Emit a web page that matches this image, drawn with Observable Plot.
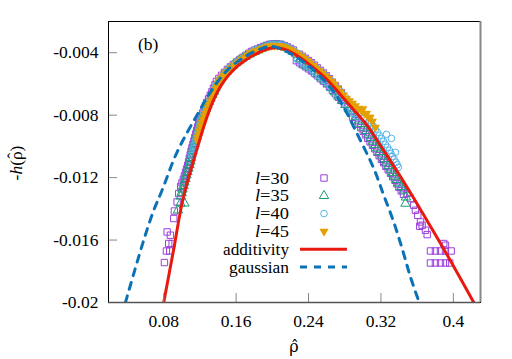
<!DOCTYPE html>
<html><head><meta charset="utf-8">
<script src="https://cdn.jsdelivr.net/npm/d3@7"></script>
<script src="https://cdn.jsdelivr.net/npm/@observablehq/plot@0.6"></script>
<style>
html,body{margin:0;padding:0;background:#fff;}
#wrap{position:relative;width:512px;height:359px;overflow:hidden;background:#fff;}
#wrap svg{position:absolute;left:0;top:0;}
</style></head><body><div id="wrap"></div>
<script>
// ---- data ----
const xTicks = [0.08, 0.16, 0.24, 0.32, 0.4];
const xTickLabels = ["0.08", "0.16", "0.24", "0.32", "0.4"];
const yTicks = [-0.02, -0.016, -0.012, -0.008, -0.004];
const yTickLabels = ["-0.02", "-0.016", "-0.012", "-0.008", "-0.004"];
const xDomain = [0.019, 0.43];
const yDomain = [-0.02, -0.002];
const sizesL = ["30", "35", "40", "45"];

// l=30 (open squares)
const rho30 = [0.0808,0.0830,0.0866,0.0855,0.0893,0.0838,0.0874,0.0911,0.0918,0.0948,0.0966,
0.0988,0.1017,0.1041,0.1065,0.1084,0.1102,0.1123,0.1144,0.1165,0.1186,0.1213,0.1246,0.1277,0.1314,0.1349,0.1382,0.1438,0.1504,0.1570,0.1642,0.1708,
0.1769,0.1835,0.1902,0.1968,0.2034,0.2101,0.2167,0.2233,
0.2300,0.2366,0.2432,0.2498,0.2565,0.2631,0.2697,0.2763,
0.2266,0.2333,0.2399,0.2465,0.2532,0.2598,0.2664,0.2730,0.2797,0.2863,
0.2887,0.2951,0.3005,0.3055,0.3106,0.3155,0.3206,0.3255,0.3305,0.3355,0.3399,0.3449,
0.3490,0.3526,0.3563,0.3581,0.3607,0.3637,0.3655,0.3629,0.3692,0.3711,0.3894,0.3913,
0.3747,0.3802,0.3858,0.3913,0.3976,0.3747,0.3802,0.3858,0.3913,0.3960,
0.1002,0.1029,0.1053,0.1075,0.1093,0.1112,0.1134,0.1155,0.1176,0.1200,0.1230,0.1262,0.1296,0.1332,0.1366,0.1410,0.1471,0.1537,0.1606,0.1675,0.1739,0.1802,0.1869,0.1935,0.2001,0.2068,0.2134,0.2200,
0.2333,0.2399,0.2465,0.2532,0.2598,0.2664,0.2730,
0.2300,0.2366,0.2432,0.2499,0.2565,0.2631,0.2697,0.2764,0.2830,
0.2919,0.2978,0.3030,0.3080,0.3130,0.3180,0.3230,0.3280,0.3330,0.3377,0.3424];
const h30 = [-0.01744,-0.01670,-0.01670,-0.01622,-0.01622,-0.01548,-0.01569,-0.01462,-0.01414,-0.01356,-0.01302,
-0.01256,-0.01211,-0.01166,-0.01121,-0.01076,-0.01032,-0.00987,-0.00942,-0.00897,-0.00852,-0.00808,-0.00763,-0.00718,-0.00673,-0.00628,-0.00584,-0.00545,-0.00507,-0.00475,-0.00443,-0.00417,
-0.00392,-0.00376,-0.00360,-0.00347,-0.00344,-0.00347,-0.00363,-0.00383,
-0.00410,-0.00436,-0.00464,-0.00497,-0.00530,-0.00567,-0.00611,-0.00655,
-0.00451,-0.00477,-0.00503,-0.00530,-0.00566,-0.00598,-0.00641,-0.00685,-0.00728,-0.00771,
-0.00814,-0.00859,-0.00904,-0.00949,-0.00993,-0.01038,-0.01083,-0.01128,-0.01172,-0.01217,-0.01262,-0.01307,
-0.01302,-0.01334,-0.01377,-0.01409,-0.01441,-0.01484,-0.01505,-0.01512,-0.01537,-0.01565,-0.01622,-0.01633,
-0.01670,-0.01670,-0.01670,-0.01670,-0.01670,-0.01747,-0.01747,-0.01747,-0.01747,-0.01747,
-0.01234,-0.01189,-0.01144,-0.01099,-0.01054,-0.01010,-0.00965,-0.00920,-0.00875,-0.00830,-0.00786,-0.00741,-0.00696,-0.00651,-0.00606,-0.00565,-0.00526,-0.00491,-0.00459,-0.00430,-0.00404,-0.00384,-0.00368,-0.00353,-0.00345,-0.00345,-0.00355,-0.00373,
-0.00423,-0.00450,-0.00480,-0.00513,-0.00548,-0.00589,-0.00633,
-0.00464,-0.00490,-0.00516,-0.00548,-0.00582,-0.00619,-0.00663,-0.00706,-0.00750,
-0.00836,-0.00881,-0.00926,-0.00971,-0.01015,-0.01060,-0.01105,-0.01150,-0.01195,-0.01240,-0.01285];

// l=35 (open triangles)
const rho35 = [0.0957,0.0985,0.1029,0.0990,0.1007,0.1029,0.1051,0.1073,0.1095,0.1106,0.1128,0.1150,0.1172,0.1194,0.1217,0.1250,0.1283,0.1316,0.1355,0.1388,0.1438,0.1493,0.1565,0.1636,0.1703,
0.1802,0.1880,0.1957,0.2034,0.2112,0.2189,0.2266,
0.2344,0.2421,0.2498,0.2576,0.2653,0.2730,0.2808,0.2885,
0.2957,0.3007,0.3060,0.3109,0.3158,0.3206,0.3255,0.3305,0.3351,0.3397,0.3453,0.3476,0.3471,
0.0998,0.1018,0.1040,0.1062,0.1084,0.1100,0.1117,0.1139,0.1161,0.1183,0.1205,0.1233,0.1266,0.1300,0.1335,0.1371,0.1413,0.1465,0.1529,0.1600,0.1670,0.1752,0.1841,0.1918,0.1995,0.2073,0.2150,0.2228,
0.2305,0.2382,0.2460,0.2537,0.2615,0.2691,0.2769,0.2846,0.2921,0.2982,0.3033,0.3085,0.3133,0.3182,0.3230,0.3280,0.3328,0.3374,0.3425];
const h35 = [-0.01409,-0.01365,-0.01365,-0.01320,-0.01275,-0.01230,-0.01185,-0.01141,-0.01096,-0.01051,-0.01006,-0.00961,-0.00916,-0.00872,-0.00827,-0.00782,-0.00737,-0.00692,-0.00648,-0.00603,-0.00558,-0.00520,-0.00481,-0.00449,-0.00424,
-0.00394,-0.00375,-0.00358,-0.00353,-0.00358,-0.00379,-0.00409,
-0.00475,-0.00497,-0.00539,-0.00577,-0.00625,-0.00680,-0.00734,-0.00788,
-0.00833,-0.00878,-0.00923,-0.00968,-0.01012,-0.01057,-0.01102,-0.01147,-0.01192,-0.01236,-0.01281,-0.01326,-0.01366,
-0.01297,-0.01252,-0.01207,-0.01163,-0.01118,-0.01073,-0.01028,-0.00983,-0.00938,-0.00894,-0.00849,-0.00804,-0.00759,-0.00714,-0.00670,-0.00625,-0.00580,-0.00539,-0.00500,-0.00465,-0.00436,-0.00409,-0.00384,-0.00366,-0.00355,-0.00355,-0.00368,-0.00394,
-0.00440,-0.00486,-0.00518,-0.00558,-0.00601,-0.00652,-0.00707,-0.00761,-0.00810,-0.00855,-0.00900,-0.00945,-0.00990,-0.01035,-0.01080,-0.01125,-0.01170,-0.01214,-0.01259];

// l=40 (open circles)
const rho40 = [0.1106,0.1128,0.1150,0.1169,0.1190,0.1211,0.1244,0.1277,0.1312,0.1345,0.1378,0.1424,0.1482,0.1548,0.1620,0.1697,
0.1780,0.1846,0.1913,0.1979,0.2045,0.2112,0.2178,0.2244,0.2311,0.2377,0.2443,0.2509,0.2576,0.2642,0.2708,0.2774,0.2841,
0.2277,0.2344,0.2410,0.2476,0.2543,0.2609,0.2675,0.2742,0.2808,0.2874,0.2940,
0.3073,0.3117,0.3161,0.3206,0.3250,0.3294,0.3327,0.3366,0.3393,0.3261,0.3316,0.3360,
0.1117,0.1139,0.1160,0.1180,0.1200,0.1228,0.1261,0.1295,0.1329,0.1362,0.1401,0.1453,0.1515,0.1584,0.1659,0.1739,0.1813,0.1880,0.1946,0.2012,0.2079,0.2145,0.2211,0.2278,0.2344,0.2410,0.2476,0.2543,0.2609,0.2675,0.2741,0.2808,
0.2311,0.2377,0.2443,0.2510,0.2576,0.2642,0.2708,0.2775,0.2841,0.2907,0.3005,
0.3095,0.3139,0.3183,0.3228,0.3272,0.3310,0.3346,0.3380];
const h40 = [-0.01057,-0.01012,-0.00968,-0.00923,-0.00878,-0.00833,-0.00788,-0.00744,-0.00699,-0.00654,-0.00609,-0.00564,-0.00526,-0.00488,-0.00456,-0.00424,
-0.00393,-0.00376,-0.00362,-0.00349,-0.00348,-0.00352,-0.00368,-0.00390,-0.00417,-0.00444,-0.00472,-0.00506,-0.00539,-0.00578,-0.00621,-0.00666,-0.00709,
-0.00443,-0.00470,-0.00497,-0.00527,-0.00561,-0.00594,-0.00638,-0.00682,-0.00726,-0.00769,-0.00812,
-0.00833,-0.00872,-0.00910,-0.00949,-0.00987,-0.01025,-0.01064,-0.01102,-0.01134,-0.00923,-0.00949,-0.01038,
-0.01035,-0.00990,-0.00946,-0.00901,-0.00856,-0.00811,-0.00766,-0.00722,-0.00677,-0.00632,-0.00587,-0.00545,-0.00507,-0.00472,-0.00440,-0.00408,-0.00384,-0.00369,-0.00355,-0.00347,-0.00349,-0.00359,-0.00379,-0.00403,-0.00430,-0.00458,-0.00489,-0.00522,-0.00558,-0.00599,-0.00643,-0.00687,
-0.00456,-0.00483,-0.00512,-0.00544,-0.00577,-0.00616,-0.00660,-0.00704,-0.00747,-0.00790,-0.00822,
-0.00852,-0.00891,-0.00930,-0.00968,-0.01006,-0.01045,-0.01083,-0.01118];

// l=45 (filled down-triangles)
const rho45 = [0.1172,0.1189,0.1206,0.1225,0.1250,0.1277,0.1305,0.1333,0.1360,0.1388,0.1419,0.1465,0.1515,0.1581,0.1636,0.1697,
0.1758,0.1824,0.1891,0.1957,0.2023,0.2090,0.2156,0.2222,0.2288,0.2355,0.2421,0.2487,0.2554,0.2620,0.2686,0.2753,0.2819,
0.2885,0.2951,0.3018,0.3062,0.3106,0.3139,
0.1180,0.1197,0.1215,0.1237,0.1263,0.1291,0.1319,0.1346,0.1374,0.1403,0.1442,0.1490,0.1548,0.1608,0.1666,0.1727,0.1791,0.1857,0.1924,0.1990,0.2056,0.2123,0.2189,0.2255,0.2321,0.2388,0.2454,0.2520,0.2587,0.2653,0.2719,0.2786,0.2852,0.2918,0.2985,
0.3000,0.3040,0.3080];
const h45 = [-0.00961,-0.00923,-0.00884,-0.00846,-0.00808,-0.00769,-0.00731,-0.00692,-0.00654,-0.00616,-0.00577,-0.00545,-0.00513,-0.00481,-0.00456,-0.00430,
-0.00401,-0.00389,-0.00372,-0.00358,-0.00353,-0.00356,-0.00369,-0.00389,-0.00411,-0.00438,-0.00467,-0.00500,-0.00532,-0.00566,-0.00603,-0.00651,-0.00692,
-0.00724,-0.00756,-0.00788,-0.00814,-0.00840,-0.00878,
-0.00942,-0.00903,-0.00865,-0.00827,-0.00788,-0.00750,-0.00711,-0.00673,-0.00635,-0.00596,-0.00561,-0.00529,-0.00497,-0.00468,-0.00443,-0.00415,-0.00395,-0.00380,-0.00365,-0.00355,-0.00354,-0.00362,-0.00379,-0.00400,-0.00424,-0.00452,-0.00483,-0.00516,-0.00549,-0.00584,-0.00627,-0.00671,-0.00708,-0.00740,-0.00772,
-0.00760,-0.00790,-0.00815];

// additivity (solid red)
const rhoAdd = [0.0800,0.0910,0.1012,0.1156,0.1261,0.1349,0.1427,0.1515,0.1625,0.1758,0.1943,0.2001,0.2112,0.2237,0.2421,0.2606,0.2789,0.2937,0.3048,0.3158,0.3379,0.3526,0.3655,0.3902,0.4226];
const hAdd = [-0.0200,-0.0166,-0.0134,-0.0104,-0.0084,-0.00705,-0.00616,-0.00545,-0.00481,-0.00427,-0.00376,-0.00369,-0.00374,-0.00406,-0.00481,-0.00573,-0.00694,-0.00790,-0.00865,-0.00961,-0.01160,-0.01297,-0.01422,-0.01665,-0.0200];

// gaussian (dashed blue)
const rhoGau = [0.0377,0.0579,0.0690,0.0782,0.0948,0.1187,0.1316,0.1501,0.1722,0.1905,0.1990,0.2089,0.2347,0.2606,0.2771,0.2918,0.3121,0.3231,0.3341,0.3434,0.3526,0.3623];
const hGau = [-0.0200,-0.01601,-0.01409,-0.01281,-0.01036,-0.00780,-0.00652,-0.00513,-0.00417,-0.00368,-0.00360,-0.00374,-0.00460,-0.00598,-0.00731,-0.00897,-0.01142,-0.01313,-0.01484,-0.01654,-0.01836,-0.0200];

// ---- styling / layout ----
const W = 512, H = 359, mL = 108, mR = 32, mT = 21, mB = 57;
const plotW = W - mL - mR, plotH = H - mT - mB;
const font = "'Liberation Serif','Times New Roman',serif";
const fs = 17.5, fsLeg = 16;
const cPurple = "#9b3fdc", cGreen = "#1a9e78", cBlue = "#56b4e9", cOrange = "#e69f00", cRed = "#e8190f", cDash = "#0b72b5";
const rSq = 3.6, rTri = 3.5, rCir = 3.3, rDown = 3.4;

const rows = (rs, hs) => rs.slice(0, Math.min(rs.length, hs.length)).map((r, i) => ({rho: r, h: hs[i]}));
const triDown = {draw(ctx, size) {
  const y = Math.sqrt(size / (Math.sqrt(3) * 3)), s3 = Math.sqrt(3);
  ctx.moveTo(0, 2 * y); ctx.lineTo(-s3 * y, -y); ctx.lineTo(s3 * y, -y); ctx.closePath();
}};
const xLab = new Map(xTicks.map((t, i) => [t, xTickLabels[i]]));
const yLab = new Map(yTicks.map((t, i) => [t, yTickLabels[i]]));

const chart = Plot.plot({
  width: W, height: H, marginLeft: mL, marginRight: mR, marginTop: mT, marginBottom: mB,
  x: {domain: xDomain}, y: {domain: yDomain},
  style: {fontFamily: font, fontSize: fs + "px", color: "#000", background: "transparent", overflow: "visible"},
  marks: [
    Plot.dot(rows(rho30, h30), {x: "rho", y: "h", symbol: "square", r: rSq, stroke: cPurple, strokeWidth: 1, fill: "none"}),
    Plot.dot(rows(rho35, h35), {x: "rho", y: "h", symbol: "triangle", r: rTri, stroke: cGreen, strokeWidth: 1, fill: "none"}),
    Plot.dot(rows(rho40, h40), {x: "rho", y: "h", symbol: "circle", r: rCir, stroke: cBlue, strokeWidth: 1, fill: "none"}),
    Plot.dot(rows(rho45, h45), {x: "rho", y: "h", symbol: triDown, r: rDown, fill: cOrange, stroke: "none"}),
    Plot.line(rows(rhoAdd, hAdd), {x: "rho", y: "h", stroke: cRed, strokeWidth: 3, curve: "catmull-rom", clip: true}),
    Plot.line(rows(rhoGau, hGau), {x: "rho", y: "h", stroke: cDash, strokeWidth: 3, strokeDasharray: "7,7", curve: "catmull-rom", clip: true}),
    Plot.tickX(xTicks, {x: d => d, stroke: "#888", insetTop: plotH - 9}),
    Plot.tickY(yTicks, {y: d => d, stroke: "#888", insetRight: plotW - 9}),
    Plot.axisX({ticks: xTicks, tickSize: 0, tickPadding: 12, tickFormat: d => xLab.get(d), label: null, fontSize: fs}),
    Plot.axisY({ticks: yTicks, tickSize: 0, tickPadding: 10, tickFormat: d => yLab.get(d), label: null, fontSize: fs}),
    Plot.frame({stroke: "#000"}),
    Plot.ruleX([xDomain[1]], {stroke: "#888", strokeWidth: 2}),
    Plot.ruleY([yDomain[0]], {stroke: "#555", strokeWidth: 1.5})
  ]
});
const wrap = document.getElementById("wrap");
wrap.appendChild(chart);

// ---- overlay: legend, axis titles, panel tag ----
const ov = d3.create("svg").attr("width", W).attr("height", H)
  .style("font-family", font).style("font-size", fs + "px").style("pointer-events", "none");
const legY = [178, 195.8, 213.6, 231.4, 249.2, 267];
const legTextX = 289, legSymX = 324, legLine = [300, 347];
const legendSyms = [
  {sym: d3.symbolSquare, r: rSq, stroke: cPurple, fill: "none"},
  {sym: d3.symbolTriangle, r: rTri, stroke: cGreen, fill: "none"},
  {sym: d3.symbolCircle, r: rCir, stroke: cBlue, fill: "none"},
  {sym: triDown, r: rDown, stroke: "none", fill: cOrange}
];
sizesL.forEach((s, i) => {
  const t = ov.append("text").attr("x", legTextX).attr("y", legY[i]).attr("dy", "0.35em")
    .attr("text-anchor", "end").style("font-size", fsLeg + "px")
    .attr("textLength", 34).attr("lengthAdjust", "spacingAndGlyphs");
  t.append("tspan").attr("font-style", "italic").text("l");
  t.append("tspan").text("=" + s);
  const L = legendSyms[i];
  ov.append("path").attr("transform", `translate(${legSymX},${legY[i]})`)
    .attr("d", d3.symbol(L.sym, Math.PI * L.r * L.r)())
    .attr("fill", L.fill).attr("stroke", L.stroke).attr("stroke-width", 1);
});
ov.append("text").attr("x", legTextX).attr("y", legY[4]).attr("dy", "0.35em").attr("text-anchor", "end")
  .style("font-size", fsLeg + "px").attr("textLength", 66).attr("lengthAdjust", "spacingAndGlyphs").text("additivity");
ov.append("line").attr("x1", legLine[0]).attr("x2", legLine[1]).attr("y1", legY[4]).attr("y2", legY[4])
  .attr("stroke", cRed).attr("stroke-width", 3);
ov.append("text").attr("x", legTextX).attr("y", legY[5]).attr("dy", "0.35em").attr("text-anchor", "end")
  .style("font-size", fsLeg + "px").attr("textLength", 60).attr("lengthAdjust", "spacingAndGlyphs").text("gaussian");
ov.append("line").attr("x1", legLine[0]).attr("x2", legLine[1]).attr("y1", legY[5]).attr("y2", legY[5])
  .attr("stroke", cDash).attr("stroke-width", 3).attr("stroke-dasharray", "7,7");

// panel tag
ov.append("text").attr("x", 138).attr("y", 49.5).text("(b)");
// x title: rho with combining hat, in one text node
ov.append("text").attr("x", 294).attr("y", 351.5).attr("text-anchor", "middle")
  .style("font-family", "'DejaVu Serif',serif").style("font-size", "16px").text("\u03C1\u0302");
// y title: -h(rho-hat), rotated
const yt = ov.append("text").attr("transform", "translate(22,163) rotate(-90)").attr("text-anchor", "middle");
yt.append("tspan").text("-");
yt.append("tspan").attr("font-style", "italic").text("h");
yt.append("tspan").text("(\u03C1");
yt.append("tspan").attr("dx", "-0.42em").attr("dy", "-0.15em").text("\u02C6");
yt.append("tspan").attr("dx", "0.08em").attr("dy", "0.15em").text(")");
wrap.appendChild(ov.node());
</script></body></html>
